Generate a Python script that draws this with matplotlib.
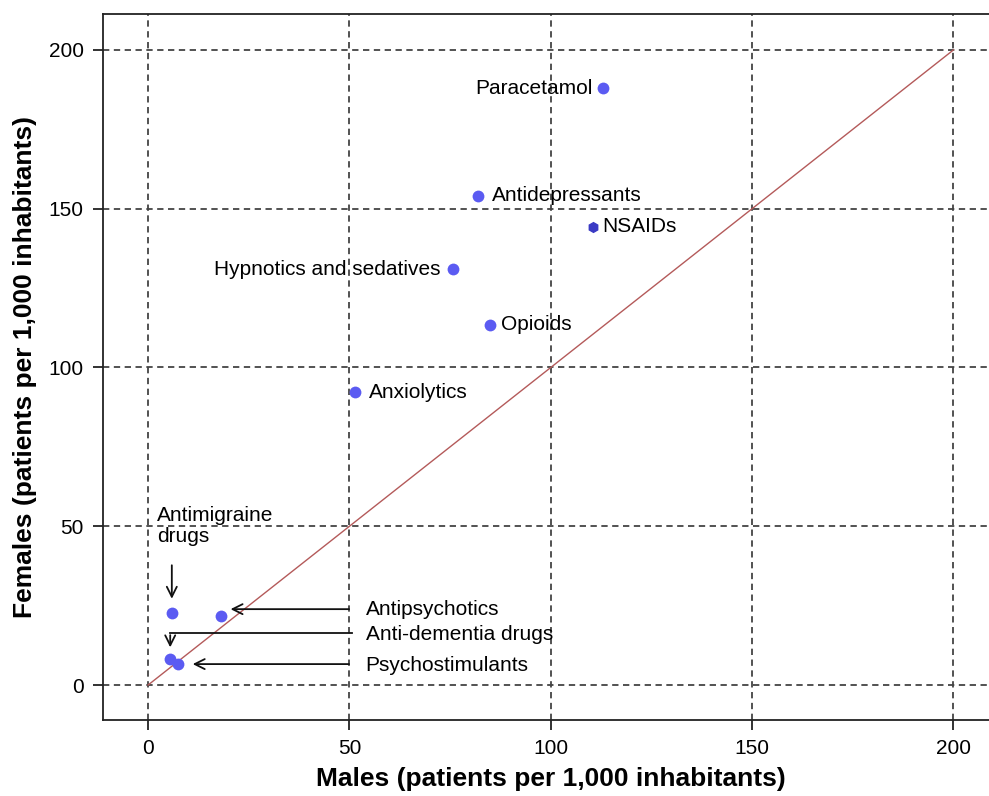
import matplotlib
matplotlib.use('Agg')
import matplotlib.pyplot as plt

# drug classes, prevalence per 1,000 inhabitants
drugs   = ['Paracetamol', 'Antidepressants', 'NSAIDs', 'Hypnotics and sedatives',
           'Opioids', 'Anxiolytics', 'Antimigraine drugs', 'Antipsychotics',
           'Anti-dementia drugs', 'Psychostimulants']
males   = [113.0, 82.0, 110.5, 75.6, 84.8, 51.5, 5.9, 18.1, 5.5, 7.4]
females = [188.0, 154.0, 144.3, 131.0, 113.4, 92.3, 22.7, 21.7, 8.2, 6.6]

ticks = [0, 50, 100, 150, 200]

plt.rcParams['font.family'] = ['Liberation Sans', 'DejaVu Sans']

fig = plt.figure(figsize=(9.89, 7.96), dpi=100)
ax = fig.add_axes([0.1041, 0.0955, 0.906, 0.8869])

ax.set_xlim(-11.2, 211.3)
ax.set_ylim(-11.0, 211.3)
ax.set_xticks(ticks)
ax.set_yticks(ticks)
ax.grid(True, color='#444444', linestyle=(0, (3.5, 2.5)), linewidth=1.3)
ax.set_axisbelow(True)
ax.spines['right'].set_visible(False)
for s in ['left', 'bottom', 'top']:
    ax.spines[s].set_linewidth(1.3)
    ax.spines[s].set_color('#222222')
ax.tick_params(direction='out', length=7, width=1.3, color='#222222', labelsize=15, pad=7)

# line of equality
ax.plot([0, 200], [0, 200], color='#b45a5a', linewidth=1.0, zorder=2)

# points (NSAIDs drawn darker, smaller hexagon)
for name, mx, fy in zip(drugs, males, females):
    if name == 'NSAIDs':
        ax.plot(mx, fy, marker='h', markersize=7, color='#3a3ac4', zorder=4)
    else:
        ax.plot(mx, fy, marker='o', markersize=8.5, color='#5b5bf2',
                markeredgewidth=0, zorder=4)

fs = 15
ax.text(110.5, 188.0, 'Paracetamol', ha='right', va='center', fontsize=fs)
ax.text(85.3, 154.0, 'Antidepressants', ha='left', va='center', fontsize=fs)
ax.text(112.8, 144.3, 'NSAIDs', ha='left', va='center', fontsize=fs)
ax.text(72.6, 131.0, 'Hypnotics and sedatives', ha='right', va='center', fontsize=fs)
ax.text(87.7, 113.4, 'Opioids', ha='left', va='center', fontsize=fs)
ax.text(54.8, 92.2, 'Anxiolytics', ha='left', va='center', fontsize=fs)
ax.text(2.2, 50.2, 'Antimigraine\ndrugs', ha='left', va='center', fontsize=fs,
        linespacing=1.15)
ax.text(54.0, 23.9, 'Antipsychotics', ha='left', va='center', fontsize=fs)
ax.text(54.0, 16.0, 'Anti-dementia drugs', ha='left', va='center', fontsize=fs)
ax.text(54.0, 6.0, 'Psychostimulants', ha='left', va='center', fontsize=fs)

arrow = dict(arrowstyle='->', color='#111111', lw=1.3, mutation_scale=18)
ax.annotate('', xy=(5.9, 26.3), xytext=(5.9, 38.6), arrowprops=arrow)
ax.annotate('', xy=(19.8, 23.9), xytext=(50.6, 23.9), arrowprops=arrow)
ax.plot([50.6, 5.5], [16.4, 16.4], color='#111111', lw=1.3)
ax.annotate('', xy=(5.5, 11.0), xytext=(5.5, 16.6), arrowprops=arrow)
ax.annotate('', xy=(10.4, 6.6), xytext=(50.6, 6.6), arrowprops=arrow)

ax.set_xlabel('Males (patients per 1,000 inhabitants)',
              fontsize=19, fontweight='bold', labelpad=6)
ax.set_ylabel('Females (patients per 1,000 inhabitants)',
              fontsize=19, fontweight='bold', labelpad=8)

fig.savefig('out.png', dpi=100)
